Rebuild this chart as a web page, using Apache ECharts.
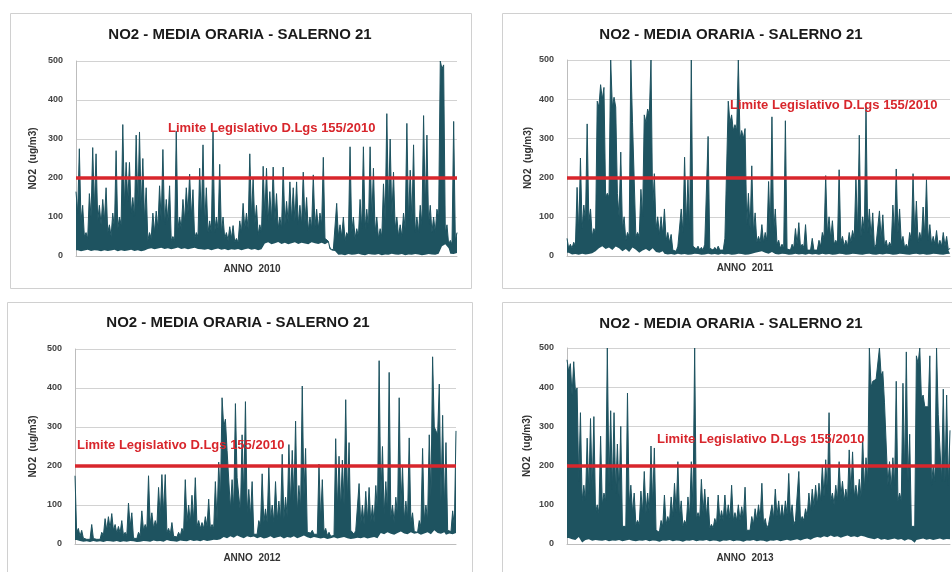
<!DOCTYPE html>
<html>
<head>
<meta charset="utf-8">
<script src="https://cdn.jsdelivr.net/npm/echarts@6/dist/echarts.min.js"></script>
<style>html,body{margin:0;padding:0;background:#fff}#chart{width:952px;height:572px}</style>
</head>
<body>
<div id="chart"></div>
<script>
// valore limite orario NO2 (D.Lgs 155/2010)
const LIMIT = 200;
const years = ['2010', '2011', '2012', '2013'];

// per ogni colonna (circa 3 px) del grafico orario: massimo, livello di fondo
// tra questa colonna e la successiva, minimo
const top2010 = [
  165,275,130,60,160,278,262,130,145,175,
  80,110,270,100,337,240,240,150,310,318,
  250,175,60,110,115,180,273,145,180,50,
  320,100,145,175,210,170,60,225,285,175,
  90,320,100,235,100,60,75,78,45,90,
  135,110,262,200,130,80,230,225,165,228,
  160,100,228,140,190,175,190,130,215,150,
  100,208,120,110,253,50,18,16,135,80,
  100,60,280,100,70,145,280,120,280,225,
  100,70,185,365,300,215,100,80,110,340,
  220,285,100,130,360,310,130,100,120,500,
  490,80,40,345,60
];
const mid2010 = [
  110,90,50,45,100,120,90,80,90,60,
  50,70,70,80,130,140,110,100,130,120,
  90,40,45,60,70,90,80,90,40,40,
  70,70,90,110,100,45,50,90,80,60,
  60,60,70,60,45,40,45,35,35,60,
  70,70,100,80,55,60,100,90,90,90,
  70,70,80,85,90,90,80,80,85,65,
  70,75,70,80,45,38,16,16,50,50,
  40,50,60,45,50,70,70,70,90,60,
  45,50,90,120,100,70,50,50,70,90,
  90,60,60,80,120,80,60,60,100,480,
  60,30,30,40
];
const low2010 = [
  15,12,14,16,13,15,14,12,15,13,14,16,12,15,13,14,16,13,15,12,14,
  18,20,17,19,21,18,20,17,19,22,18,20,17,19,21,18,
  17,16,18,15,17,19,16,18,15,17,16,18,15,17,19,16,18,15,17,
  32,35,30,33,36,31,34,30,33,35,31,34,32,30,35,33,31,34,30,
  35,14,13,
  3,4,2,5,3,4,6,3,2,5,4,3,5,2,4,3,6,4,3,5,2,4,3,5,4,2,3,5,4,3,6,
  25,30,20,6,5,8
];

const top2011 = [
  45,30,35,175,250,130,337,120,70,395,
  437,430,160,500,405,160,265,100,60,500,
  340,60,170,360,375,500,210,100,100,120,
  60,55,20,25,120,252,195,500,30,25,
  22,30,305,25,22,25,20,45,395,360,
  335,500,320,325,160,230,110,50,80,60,
  190,355,120,40,30,345,20,30,70,85,
  30,80,20,45,20,40,60,205,100,90,
  40,220,50,40,60,65,200,308,100,380,
  120,110,30,115,105,40,35,130,222,120,
  50,30,60,210,140,60,125,195,80,50,
  65,40,60,50,20
];
const mid2011 = [
  20,20,25,60,70,90,90,50,60,380,
  400,150,150,380,380,100,70,40,50,340,
  50,50,100,340,360,120,70,55,55,40,
  35,15,12,20,60,80,70,25,18,15,
  15,25,20,15,15,15,15,40,340,320,
  320,300,300,80,70,60,35,35,35,40,
  60,60,30,20,20,18,15,20,30,22,
  22,15,15,15,15,25,45,55,45,30,
  30,35,25,25,35,45,60,50,60,60,
  50,20,25,45,25,20,25,60,60,35,
  20,20,40,55,35,40,50,40,30,30,
  25,25,25,15
];
const low2011 = [
  8,4,5,3,6,4,5,7,
  12,20,25,18,22,15,24,20,12,18,10,22,16,8,14,18,12,20,10,8,12,
  6,4,5,3,6,4,5,3,4,6,5,3,4,6,4,5,3,6,4,5,
  3,4,6,5,3,4,6,8,10,12,8,6,10,5,4,6,5,3,4,6,
  4,5,3,6,4,5,3,6,4,5,3,4,6,5,3,4,6,5,4,3,
  5,6,4,3,5,4,6,5,3,4,6,5,4,3,5,6,4,5,3,4,
  6,5,4,3,5,6
];

const top2012 = [
  175,40,35,20,15,50,18,15,30,65,
  70,78,50,45,60,30,105,80,20,30,
  85,50,175,80,60,145,178,178,40,55,
  25,30,40,165,100,125,170,60,55,70,
  115,50,160,210,375,320,240,165,360,170,
  280,365,140,160,30,60,180,90,200,100,
  160,110,230,120,255,240,315,150,405,245,
  35,35,30,205,165,40,30,25,270,225,
  215,370,260,40,35,155,100,135,145,100,
  150,470,250,160,440,100,120,375,200,110,
  272,80,30,60,245,100,280,480,290,410,
  330,260,40,85,290
];
const mid2012 = [
  30,20,15,12,12,14,12,12,22,35,
  40,35,28,28,22,22,45,15,14,22,
  35,38,50,40,45,70,80,30,25,20,
  18,20,30,55,55,60,45,40,40,45,
  40,40,60,110,300,240,90,90,170,80,
  120,80,70,25,25,45,55,55,60,55,
  60,60,65,70,100,110,80,90,120,30,
  28,25,25,60,30,22,20,22,90,90,
  100,110,35,25,30,50,50,60,55,55,
  80,110,75,80,70,55,70,90,60,65,
  55,32,30,45,60,60,120,300,280,110,
  90,35,32,45
];
const low2012 = [
  10,8,6,7,5,8,6,7,5,8,7,6,8,5,7,6,8,7,5,6,
  8,7,6,9,7,8,6,10,8,7,6,9,8,7,10,8,9,7,10,8,
  9,11,10,12,
  18,15,20,16,22,18,15,20,17,19,
  15,18,14,16,20,15,17,19,14,18,16,20,15,18,22,17,15,18,16,
  14,16,13,15,17,14,16,18,15,13,14,16,15,17,14,16,18,15,
  28,25,30,26,24,28,32,27,25,30,26,28,24,27,30,25,35,28,26,30,24,27,25,28
];

const top2013 = [
  470,460,465,398,335,150,270,320,325,100,
  275,130,500,340,335,255,300,50,385,150,
  130,60,135,185,130,250,245,40,60,125,
  70,120,155,210,110,60,120,210,500,80,
  165,140,120,50,65,125,85,125,100,150,
  80,100,95,145,40,70,90,100,155,65,
  50,100,140,110,100,110,180,100,60,185,
  70,90,130,140,150,155,200,215,335,130,
  150,210,160,140,240,235,150,165,275,220,
  500,415,420,500,440,365,210,220,415,130,
  410,490,280,50,480,500,380,355,480,200,
  500,330,395,380,290
];
const mid2013 = [
  440,380,390,160,110,110,130,140,80,80,
  100,110,150,140,130,120,45,45,100,80,
  50,50,80,80,80,100,35,30,45,50,
  55,70,80,70,45,50,70,90,65,65,
  80,70,40,40,50,60,60,65,65,60,
  60,60,65,35,35,50,60,65,50,40,
  45,65,70,65,65,75,70,50,55,60,
  60,70,85,95,100,110,120,130,110,100,
  110,120,110,110,130,120,115,120,140,160,
  400,410,420,430,360,150,140,150,110,110,
  180,160,45,45,460,370,350,350,150,160,
  330,160,160,150
];
const low2013 = [
  15,12,10,18,4,10,12,8,10,9,
  8,10,7,9,8,10,7,9,11,8,7,9,8,10,7,9,8,6,9,8,10,7,9,8,6,9,8,10,7,9,
  8,10,7,9,8,6,9,8,10,7,9,8,6,9,8,10,7,9,8,6,9,8,10,7,9,11,8,10,12,9,
  12,14,11,15,18,16,20,17,22,18,20,16,19,22,18,20,17,21,19,16,
  14,12,15,11,13,10,12,14,11,13,8,12,10,3,10,12,14,11,13,10,12,14,11,13,12
];

const tops = [top2010, top2011, top2012, top2013];
const mids = [mid2010, mid2011, mid2012, mid2013];
const lows = [low2010, low2011, low2012, low2013];

const TEAL = '#1e5360';
const RED = '#d8262c';
const FONT = '"Liberation Sans", Arial, sans-serif';

const panels = [
  { grid: { left: 76, top: 61, width: 381, height: 195 }, box: [10, 13, 461, 275], title: [240, 35], xname: [252, 269], lbl: [168, 128], gap: 38 },
  { grid: { left: 567, top: 60, width: 383, height: 196 }, box: [502, 13, 470, 275], title: [731, 35], xname: [745, 268], lbl: [730, 105], gap: 34 },
  { grid: { left: 75, top: 349, width: 381, height: 195 }, box: [7, 302, 465, 290], title: [238, 323], xname: [252, 558], lbl: [77, 445], gap: 37 },
  { grid: { left: 567, top: 348, width: 383, height: 196 }, box: [502, 302, 470, 290], title: [731, 324], xname: [745, 558], lbl: [657, 439], gap: 35 }
];

// colonna i -> [massimo_i, fondo_i], il minimo vale per tutta la colonna
function upper(t, m) {
  const out = [];
  t.forEach((v, i) => { out.push(v); if (i < m.length) out.push(m[i]); });
  return out;
}
function lower(l) {
  const out = [];
  l.forEach((v, i) => { out.push(v); if (i < l.length - 1) out.push(v); });
  return out;
}

const grid = [], xAxis = [], yAxis = [], series = [], graphic = [];

panels.forEach((p, k) => {
  const hi = upper(tops[k], mids[k]);
  const lo = lower(lows[k]);
  grid.push(p.grid);
  xAxis.push({
    type: 'category', gridIndex: k, boundaryGap: false,
    data: hi.map((_, i) => i),
    axisTick: { show: false }, axisLabel: { show: false },
    axisLine: { lineStyle: { color: '#bdbdbd' } }
  });
  yAxis.push({
    type: 'value', gridIndex: k, min: 0, max: 500, interval: 100,
    name: 'NO2  (ug/m3)', nameLocation: 'middle', nameGap: p.gap,
    nameTextStyle: { fontSize: 10, fontWeight: 'bold', color: '#333', fontFamily: FONT },
    axisLine: { show: true, lineStyle: { color: '#bdbdbd' } },
    axisTick: { show: false },
    axisLabel: { fontSize: 9, fontWeight: 'bold', color: '#444', margin: 13, fontFamily: FONT },
    splitLine: { lineStyle: { color: '#d2d2d2' } }
  });
  series.push({
    type: 'line', xAxisIndex: k, yAxisIndex: k, stack: 'p' + k,
    data: lo, symbol: 'none', silent: true,
    lineStyle: { width: 0, opacity: 0 }
  });
  series.push({
    type: 'line', xAxisIndex: k, yAxisIndex: k, stack: 'p' + k,
    data: hi.map((v, i) => v - lo[i]),
    symbol: 'none', silent: true,
    lineStyle: { color: TEAL, width: 1 },
    areaStyle: { color: TEAL, opacity: 1 },
    markLine: {
      silent: true, symbol: 'none', label: { show: false },
      lineStyle: { color: RED, width: 3.5, type: 'solid' },
      data: [{ yAxis: LIMIT }]
    }
  });

  graphic.push({
    type: 'rect', shape: { x: p.box[0] + 0.5, y: p.box[1] + 0.5, width: p.box[2], height: p.box[3] },
    style: { fill: 'none', stroke: '#d0d0d0', lineWidth: 1 }
  });
  graphic.push({
    type: 'text', x: p.title[0], y: p.title[1],
    style: { text: 'NO2 - MEDIA ORARIA - SALERNO 21', font: 'bold 15px ' + FONT, fill: '#1a1a1a', align: 'center', verticalAlign: 'middle' }
  });
  graphic.push({
    type: 'text', x: p.xname[0], y: p.xname[1],
    style: { text: 'ANNO  ' + years[k], font: 'bold 10px ' + FONT, fill: '#333', align: 'center', verticalAlign: 'middle' }
  });
  graphic.push({
    type: 'text', x: p.lbl[0], y: p.lbl[1], z: 10,
    style: { text: 'Limite Legislativo D.Lgs 155/2010', font: 'bold 13px ' + FONT, fill: RED, align: 'left', verticalAlign: 'middle' }
  });
});

const chart = echarts.init(document.getElementById('chart'), null, { renderer: 'canvas' });
chart.setOption({
  backgroundColor: '#fff',
  animation: false,
  grid, xAxis, yAxis, series, graphic
});
</script>
</body>
</html>
